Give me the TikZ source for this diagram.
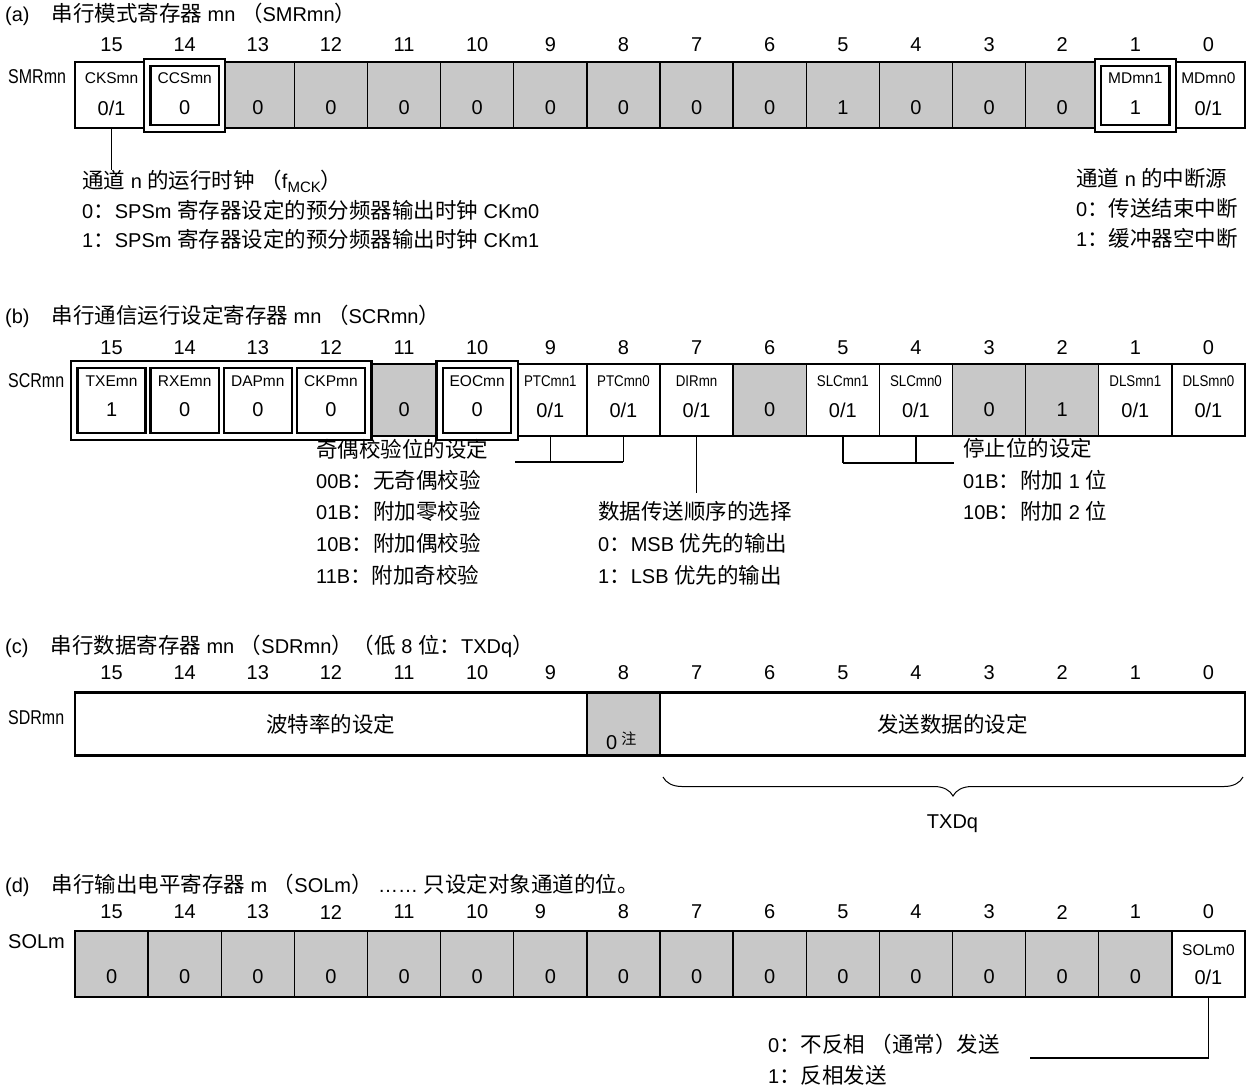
\documentclass[tikz,border=0pt]{standalone}
\usepackage{fontspec}
\setmainfont{Liberation Sans}
\newfontfamily\latinf{Liberation Sans}
\newfontfamily\narrowf{Liberation Sans}[FakeStretch=0.86]
\newfontfamily\narrowr{Liberation Sans}[FakeStretch=0.8]
\newfontfamily\cjkf{Noto Sans CJK SC}[Scale=1.075]
\usetikzlibrary{decorations.pathreplacing}
\pgfdeclarelayer{fg}
\pgfsetlayers{main,fg}
\definecolor{cellgray}{RGB}{200,200,200}
\XeTeXinterchartokenstate=1
\newXeTeXintercharclass\CJKcls
\makeatletter
\def\setcjkrange#1#2{\count@=#1\relax\loop\XeTeXcharclass\count@=\CJKcls\ifnum\count@<#2\relax\advance\count@\@ne\repeat}
\makeatother
\setcjkrange{"3000}{"303F}
\setcjkrange{"4E00}{"9FFF}
\setcjkrange{"FF00}{"FFEF}
\XeTeXinterchartoks 0 \CJKcls = {\cjkf}
\XeTeXinterchartoks 4095 \CJKcls = {\cjkf}
\XeTeXinterchartoks \CJKcls 0 = {\latinf}
\XeTeXinterchartoks \CJKcls 4095 = {\latinf}
\newcommand\msz{\fontsize{20}{24}\selectfont}
\newcommand\fsz{\fontsize{15.5}{18}\selectfont}
\newcommand\nsz{\fontsize{14}{16}\selectfont}
\tikzset{
  txt/.style={font=\msz, inner sep=0pt, anchor=west},
  bitnum/.style={font=\msz, inner sep=0pt},
  fname/.style={font=\fsz, inner sep=0pt},
  fnamen/.style={font=\fsz\narrowf, inner sep=0pt},
  fval/.style={font=\msz, inner sep=0pt},
  cellbox/.style={draw, line width=1.4pt, inner sep=0pt, outer sep=0pt},
  shade/.style={fill=cellgray},
  plain/.style={fill=white},
  regframe/.style={line width=2.4pt},
  outerhi/.style={line width=2.4pt, fill=white},
  innerhi/.style={line width=2.4pt},
  conn/.style={line width=1.4pt},
  regname/.style={font=\msz\narrowr, inner sep=0pt, anchor=west},
}
\newcommand\setreg[4]{\def\ytop{#1}\def\ybot{#2}\def\ynm{#3}\def\yval{#4}%
  \pgfmathsetmacro\rh{#2-#1}\pgfmathsetmacro\ymid{(#1+#2)/2}}
\newcommand\regcell[6]{%
  \pgfmathsetmacro\cxm{75+(15.5-#2)*73.125}%
  \node[cellbox,#3,minimum width=73.125pt,minimum height=\rh pt] (#1#2) at (\cxm,\ymid) {};
  \begin{pgfonlayer}{fg}
  \node[#4] (#1#2n) at (\cxm,\ynm) {#5};
  \node[fval] (#1#2v) at (\cxm,\yval) {#6};
  \end{pgfonlayer}}
\newcommand\bitrow[3]{%
  \foreach \bb in {0,...,15}{%
    \pgfmathsetmacro\bx{75+(15.5-\bb)*73.125-(#3)*(\bb==9)*10}%
    \node[bitnum] (#1b\bb) at (\bx,#2) {\bb};}}
\newcommand\hibox[1]{%
  \draw[outerhi] ([shift={(-4,-3)}]#1.north west) rectangle ([shift={(4,4)}]#1.south east);
  \draw[innerhi] ([shift={(2.5,4)}]#1.north west) rectangle ([shift={(-2.5,-3)}]#1.south east);}
\begin{document}
\begin{tikzpicture}[x=1pt,y=-1pt]
\useasboundingbox[fill=white] (0,0) rectangle (1247,1088);

% ---------------- (a) SMRmn ----------------
\node[txt] (ta) at (5,14) {(a)\hspace{22pt}串行模式寄存器 mn （SMRmn）};
\bitrow{a}{45}{0}
\node[regname] (an) at (8,77) {SMRmn};
\setreg{62}{128}{78}{108}
\regcell{a}{15}{plain}{fname}{CKSmn}{0/1}
\regcell{a}{14}{plain}{fname}{CCSmn}{0}
\regcell{a}{13}{shade}{fname}{}{0}
\regcell{a}{12}{shade}{fname}{}{0}
\regcell{a}{11}{shade}{fname}{}{0}
\regcell{a}{10}{shade}{fname}{}{0}
\regcell{a}{9}{shade}{fname}{}{0}
\regcell{a}{8}{shade}{fname}{}{0}
\regcell{a}{7}{shade}{fname}{}{0}
\regcell{a}{6}{shade}{fname}{}{0}
\regcell{a}{5}{shade}{fname}{}{1}
\regcell{a}{4}{shade}{fname}{}{0}
\regcell{a}{3}{shade}{fname}{}{0}
\regcell{a}{2}{shade}{fname}{}{0}
\regcell{a}{1}{plain}{fname}{MDmn1}{1}
\regcell{a}{0}{plain}{fname}{MDmn0}{0/1}
\draw[regframe] (75,62) rectangle (1245,128);
\hibox{a14}
\hibox{a1}
\draw[conn] (a15.south) -- ++(0,42) coordinate (a15e);
\node[txt] (ta1) at (82,181) {通道 n 的运行时钟 （f\raisebox{-4pt}{\fontsize{15}{15}\selectfont MCK}）};
\node[txt] (ta2) at (82,210) {0：SPSm 寄存器设定的预分频器输出时钟 CKm0};
\node[txt] (ta3) at (82,239) {1：SPSm 寄存器设定的预分频器输出时钟 CKm1};
\node[txt] (ta4) at (1076,178) {通道 n 的中断源};
\node[txt] (ta5) at (1076,208) {0：传送结束中断};
\node[txt] (ta6) at (1076,238) {1：缓冲器空中断};

% ---------------- (b) SCRmn ----------------
\node[txt] (tb) at (5,316) {(b)\hspace{22pt}串行通信运行设定寄存器 mn （SCRmn）};
\bitrow{b}{348}{0}
\node[regname] (bn) at (8,381) {SCRmn};
\setreg{364}{436}{381}{410}
\regcell{b}{15}{plain}{fname}{TXEmn}{1}
\regcell{b}{14}{plain}{fname}{RXEmn}{0}
\regcell{b}{13}{plain}{fname}{DAPmn}{0}
\regcell{b}{12}{plain}{fname}{CKPmn}{0}
\regcell{b}{11}{shade}{fname}{}{0}
\regcell{b}{10}{plain}{fname}{EOCmn}{0}
\regcell{b}{9}{plain}{fnamen}{PTCmn1}{0/1}
\regcell{b}{8}{plain}{fnamen}{PTCmn0}{0/1}
\regcell{b}{7}{plain}{fnamen}{DIRmn}{0/1}
\regcell{b}{6}{shade}{fname}{}{0}
\regcell{b}{5}{plain}{fnamen}{SLCmn1}{0/1}
\regcell{b}{4}{plain}{fnamen}{SLCmn0}{0/1}
\regcell{b}{3}{shade}{fname}{}{0}
\regcell{b}{2}{shade}{fname}{}{1}
\regcell{b}{1}{plain}{fnamen}{DLSmn1}{0/1}
\regcell{b}{0}{plain}{fnamen}{DLSmn0}{0/1}
\draw[regframe] (75,364) rectangle (1245,436);
\draw[outerhi] ([shift={(-4,-3)}]b15.north west) rectangle ([shift={(4,4)}]b12.south east);
\foreach \c in {15,14,13,12}{\draw[innerhi] ([shift={(2.5,4)}]b\c.north west) rectangle ([shift={(-2.5,-3)}]b\c.south east);}
\hibox{b10}
\draw[conn] (b9.south) -- ++(0,26) coordinate (b9e);
\draw[conn] (b8.south) -- ++(0,26) coordinate (b8e);
\coordinate (pbl) at (515,462);
\draw[conn] (pbl) -- (b8e);
\draw[conn] (b7.south) -- ++(0,57) coordinate (b7e);
\draw[conn] (b5.south) -- ++(0,27) coordinate (b5e);
\draw[conn] (b4.south) -- ++(0,27) coordinate (b4e);
\coordinate (sbr) at (954,463);
\draw[conn] (b5e) -- (sbr);
\node[txt] (tb1) at (316,449) {奇偶校验位的设定};
\node[txt] (tb2) at (316,480) {00B：无奇偶校验};
\node[txt] (tb3) at (316,511) {01B：附加零校验};
\node[txt] (tb4) at (316,543) {10B：附加偶校验};
\node[txt] (tb5) at (316,575) {11B：附加奇校验};
\node[txt] (tb6) at (598,511) {数据传送顺序的选择};
\node[txt] (tb7) at (598,543) {0：MSB 优先的输出};
\node[txt] (tb8) at (598,575) {1：LSB 优先的输出};
\node[txt] (tb9) at (963,448) {停止位的设定};
\node[txt] (tb10) at (963,480) {01B：附加 1 位};
\node[txt] (tb11) at (963,511) {10B：附加 2 位};

% ---------------- (c) SDRmn ----------------
\node[txt] (tc) at (5,646) {(c)\hspace{22pt}串行数据寄存器 mn （SDRmn）（低 8 位：TXDq）};
\bitrow{c}{673}{0}
\node[regname] (cn) at (8,718) {SDRmn};
\node[cellbox,plain,minimum width=511.875pt,minimum height=63pt] (cA) at (330.94,724) {};
\node[cellbox,shade,minimum width=73.125pt,minimum height=63pt] (c8) at (623.44,724) {};
\node[cellbox,plain,minimum width=585pt,minimum height=63pt] (cB) at (952.5,724) {};
\draw[regframe] (75,692.5) rectangle (1245,755.5);
\node[font=\msz, inner sep=0pt] (cAt) at (cA.center) {波特率的设定};
\node[font=\msz, inner sep=0pt] (cBt) at (cB.center) {发送数据的设定};
\node[font=\msz, inner sep=0pt, anchor=base west] (c8t) at (606,749) {0\hspace{4pt}\raisebox{5pt}{\nsz 注}};
\coordinate (brl) at (663,777);
\coordinate (brr) at (1243,777);
\draw[line width=1pt, decorate, decoration={brace, mirror, amplitude=19pt}] (brl) -- (brr);
\node[font=\msz, inner sep=0pt] (txdq) at (952.5,824) {TXDq};

% ---------------- (d) SOLm ----------------
\node[txt] (td) at (5,885) {(d)\hspace{22pt}串行输出电平寄存器 m （SOLm） …… 只设定对象通道的位。};
\bitrow{d}{912}{1}
\node[txt] (dn) at (8,942) {SOLm};
\setreg{931}{997}{950}{977}
\foreach \c in {15,14,...,1}{\regcell{d}{\c}{shade}{fname}{}{0}}
\regcell{d}{0}{plain}{fname}{SOLm0}{0/1}
\draw[regframe] (75,931) rectangle (1245,997);
\coordinate (dl) at (1030,1058);
\draw[conn] (d0.south) |- (dl);
\node[txt] (td1) at (768,1044) {0：不反相 （通常）发送};
\node[txt] (td2) at (768,1075) {1：反相发送};
\end{tikzpicture}
\end{document}
